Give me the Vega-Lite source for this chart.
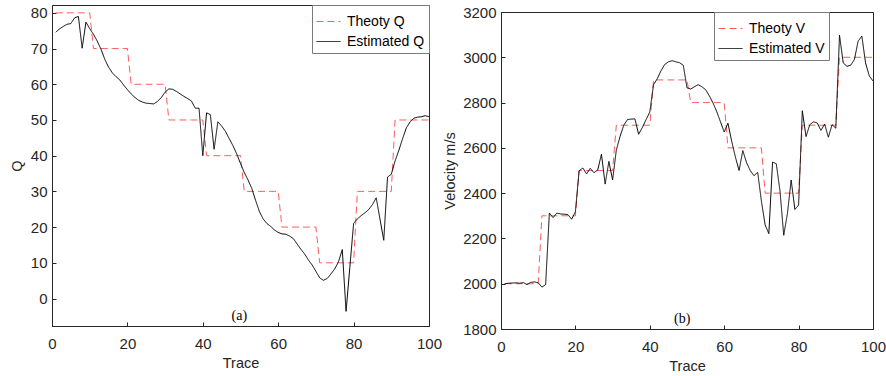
{
  "$schema": "https://vega.github.io/schema/vega-lite/v6.json",
  "padding": {"left": 8, "top": 4, "right": 5, "bottom": 5},
  "background": "white",
  "spacing": -2,
  "datasets": {
    "q": [
      {"t":1,"Theoty Q":80,"Estimated Q":74.6},{"t":2,"Theoty Q":80,"Estimated Q":75.5},{"t":3,"Theoty Q":80,"Estimated Q":76.2},{"t":4,"Theoty Q":80,"Estimated Q":76.8},{"t":5,"Theoty Q":80,"Estimated Q":77.0},
      {"t":6,"Theoty Q":80,"Estimated Q":78.6},{"t":7,"Theoty Q":80,"Estimated Q":79.0},{"t":8,"Theoty Q":80,"Estimated Q":70.1},{"t":9,"Theoty Q":80,"Estimated Q":77.4},{"t":10,"Theoty Q":80,"Estimated Q":75.6},
      {"t":11,"Theoty Q":70,"Estimated Q":74.0},{"t":12,"Theoty Q":70,"Estimated Q":72.1},{"t":13,"Theoty Q":70,"Estimated Q":69.8},{"t":14,"Theoty Q":70,"Estimated Q":67.0},{"t":15,"Theoty Q":70,"Estimated Q":64.8},
      {"t":16,"Theoty Q":70,"Estimated Q":63.2},{"t":17,"Theoty Q":70,"Estimated Q":62.1},{"t":18,"Theoty Q":70,"Estimated Q":61.2},{"t":19,"Theoty Q":70,"Estimated Q":59.8},{"t":20,"Theoty Q":70,"Estimated Q":58.5},
      {"t":21,"Theoty Q":60,"Estimated Q":57.3},{"t":22,"Theoty Q":60,"Estimated Q":56.3},{"t":23,"Theoty Q":60,"Estimated Q":55.5},{"t":24,"Theoty Q":60,"Estimated Q":55.0},{"t":25,"Theoty Q":60,"Estimated Q":54.7},
      {"t":26,"Theoty Q":60,"Estimated Q":54.6},{"t":27,"Theoty Q":60,"Estimated Q":54.5},{"t":28,"Theoty Q":60,"Estimated Q":55.2},{"t":29,"Theoty Q":60,"Estimated Q":56.3},{"t":30,"Theoty Q":60,"Estimated Q":57.8},
      {"t":31,"Theoty Q":50,"Estimated Q":58.7},{"t":32,"Theoty Q":50,"Estimated Q":58.6},{"t":33,"Theoty Q":50,"Estimated Q":58.0},{"t":34,"Theoty Q":50,"Estimated Q":57.3},{"t":35,"Theoty Q":50,"Estimated Q":56.6},
      {"t":36,"Theoty Q":50,"Estimated Q":56.0},{"t":37,"Theoty Q":50,"Estimated Q":55.3},{"t":38,"Theoty Q":50,"Estimated Q":53.3},{"t":39,"Theoty Q":50,"Estimated Q":53.3},{"t":40,"Theoty Q":50,"Estimated Q":40.0},
      {"t":41,"Theoty Q":40,"Estimated Q":52.0},{"t":42,"Theoty Q":40,"Estimated Q":51.5},{"t":43,"Theoty Q":40,"Estimated Q":41.8},{"t":44,"Theoty Q":40,"Estimated Q":49.5},{"t":45,"Theoty Q":40,"Estimated Q":48.3},
      {"t":46,"Theoty Q":40,"Estimated Q":46.8},{"t":47,"Theoty Q":40,"Estimated Q":44.8},{"t":48,"Theoty Q":40,"Estimated Q":42.8},{"t":49,"Theoty Q":40,"Estimated Q":40.5},{"t":50,"Theoty Q":40,"Estimated Q":37.8},
      {"t":51,"Theoty Q":30,"Estimated Q":35.3},{"t":52,"Theoty Q":30,"Estimated Q":33.2},{"t":53,"Theoty Q":30,"Estimated Q":30.8},{"t":54,"Theoty Q":30,"Estimated Q":27.5},{"t":55,"Theoty Q":30,"Estimated Q":24.4},
      {"t":56,"Theoty Q":30,"Estimated Q":22.3},{"t":57,"Theoty Q":30,"Estimated Q":21.0},{"t":58,"Theoty Q":30,"Estimated Q":20.2},{"t":59,"Theoty Q":30,"Estimated Q":19.2},{"t":60,"Theoty Q":30,"Estimated Q":18.5},
      {"t":61,"Theoty Q":20,"Estimated Q":18.1},{"t":62,"Theoty Q":20,"Estimated Q":18.0},{"t":63,"Theoty Q":20,"Estimated Q":17.5},{"t":64,"Theoty Q":20,"Estimated Q":16.8},{"t":65,"Theoty Q":20,"Estimated Q":15.3},
      {"t":66,"Theoty Q":20,"Estimated Q":13.8},{"t":67,"Theoty Q":20,"Estimated Q":12.5},{"t":68,"Theoty Q":20,"Estimated Q":10.8},{"t":69,"Theoty Q":20,"Estimated Q":9.4},{"t":70,"Theoty Q":20,"Estimated Q":7.6},
      {"t":71,"Theoty Q":10,"Estimated Q":5.8},{"t":72,"Theoty Q":10,"Estimated Q":5.1},{"t":73,"Theoty Q":10,"Estimated Q":5.6},{"t":74,"Theoty Q":10,"Estimated Q":6.9},{"t":75,"Theoty Q":10,"Estimated Q":8.3},
      {"t":76,"Theoty Q":10,"Estimated Q":10.3},{"t":77,"Theoty Q":10,"Estimated Q":13.7},{"t":78,"Theoty Q":10,"Estimated Q":-3.6},{"t":79,"Theoty Q":10,"Estimated Q":8.7},{"t":80,"Theoty Q":10,"Estimated Q":21.0},
      {"t":81,"Theoty Q":30,"Estimated Q":22.3},{"t":82,"Theoty Q":30,"Estimated Q":23.2},{"t":83,"Theoty Q":30,"Estimated Q":24.0},{"t":84,"Theoty Q":30,"Estimated Q":24.9},{"t":85,"Theoty Q":30,"Estimated Q":26.3},
      {"t":86,"Theoty Q":30,"Estimated Q":28.2},{"t":87,"Theoty Q":30,"Estimated Q":22.2},{"t":88,"Theoty Q":30,"Estimated Q":16.3},{"t":89,"Theoty Q":30,"Estimated Q":34.0},{"t":90,"Theoty Q":30,"Estimated Q":34.8},
      {"t":91,"Theoty Q":50,"Estimated Q":38.5},{"t":92,"Theoty Q":50,"Estimated Q":41.5},{"t":93,"Theoty Q":50,"Estimated Q":44.8},{"t":94,"Theoty Q":50,"Estimated Q":47.8},{"t":95,"Theoty Q":50,"Estimated Q":49.5},
      {"t":96,"Theoty Q":50,"Estimated Q":50.5},{"t":97,"Theoty Q":50,"Estimated Q":50.8},{"t":98,"Theoty Q":50,"Estimated Q":50.9},{"t":99,"Theoty Q":50,"Estimated Q":51.2},{"t":100,"Theoty Q":50,"Estimated Q":50.9}
    ],
    "v": [
      {"t":1,"Theoty V":2000,"Estimated V":2000},{"t":2,"Theoty V":2000,"Estimated V":2002},{"t":3,"Theoty V":2000,"Estimated V":2003},{"t":4,"Theoty V":2000,"Estimated V":2004},{"t":5,"Theoty V":2000,"Estimated V":2002},
      {"t":6,"Theoty V":2000,"Estimated V":2005},{"t":7,"Theoty V":2000,"Estimated V":1996},{"t":8,"Theoty V":2000,"Estimated V":2006},{"t":9,"Theoty V":2000,"Estimated V":2008},{"t":10,"Theoty V":2000,"Estimated V":2004},
      {"t":11,"Theoty V":2300,"Estimated V":1985},{"t":12,"Theoty V":2300,"Estimated V":1996},{"t":13,"Theoty V":2300,"Estimated V":2312},{"t":14,"Theoty V":2300,"Estimated V":2292},{"t":15,"Theoty V":2300,"Estimated V":2312},
      {"t":16,"Theoty V":2300,"Estimated V":2308},{"t":17,"Theoty V":2300,"Estimated V":2307},{"t":18,"Theoty V":2300,"Estimated V":2305},{"t":19,"Theoty V":2300,"Estimated V":2285},{"t":20,"Theoty V":2300,"Estimated V":2318},
      {"t":21,"Theoty V":2500,"Estimated V":2499},{"t":22,"Theoty V":2500,"Estimated V":2511},{"t":23,"Theoty V":2500,"Estimated V":2485},{"t":24,"Theoty V":2500,"Estimated V":2510},{"t":25,"Theoty V":2500,"Estimated V":2490},
      {"t":26,"Theoty V":2500,"Estimated V":2502},{"t":27,"Theoty V":2500,"Estimated V":2572},{"t":28,"Theoty V":2500,"Estimated V":2440},{"t":29,"Theoty V":2500,"Estimated V":2540},{"t":30,"Theoty V":2500,"Estimated V":2458},
      {"t":31,"Theoty V":2700,"Estimated V":2590},{"t":32,"Theoty V":2700,"Estimated V":2650},{"t":33,"Theoty V":2700,"Estimated V":2700},{"t":34,"Theoty V":2700,"Estimated V":2725},{"t":35,"Theoty V":2700,"Estimated V":2727},
      {"t":36,"Theoty V":2700,"Estimated V":2728},{"t":37,"Theoty V":2700,"Estimated V":2660},{"t":38,"Theoty V":2700,"Estimated V":2690},{"t":39,"Theoty V":2700,"Estimated V":2725},{"t":40,"Theoty V":2700,"Estimated V":2758},
      {"t":41,"Theoty V":2900,"Estimated V":2879},{"t":42,"Theoty V":2900,"Estimated V":2905},{"t":43,"Theoty V":2900,"Estimated V":2940},{"t":44,"Theoty V":2900,"Estimated V":2968},{"t":45,"Theoty V":2900,"Estimated V":2980},
      {"t":46,"Theoty V":2900,"Estimated V":2985},{"t":47,"Theoty V":2900,"Estimated V":2980},{"t":48,"Theoty V":2900,"Estimated V":2976},{"t":49,"Theoty V":2900,"Estimated V":2965},{"t":50,"Theoty V":2900,"Estimated V":2865},
      {"t":51,"Theoty V":2800,"Estimated V":2860},{"t":52,"Theoty V":2800,"Estimated V":2870},{"t":53,"Theoty V":2800,"Estimated V":2879},{"t":54,"Theoty V":2800,"Estimated V":2870},{"t":55,"Theoty V":2800,"Estimated V":2857},
      {"t":56,"Theoty V":2800,"Estimated V":2830},{"t":57,"Theoty V":2800,"Estimated V":2798},{"t":58,"Theoty V":2800,"Estimated V":2760},{"t":59,"Theoty V":2800,"Estimated V":2715},{"t":60,"Theoty V":2800,"Estimated V":2670},
      {"t":61,"Theoty V":2600,"Estimated V":2709},{"t":62,"Theoty V":2600,"Estimated V":2630},{"t":63,"Theoty V":2600,"Estimated V":2560},{"t":64,"Theoty V":2600,"Estimated V":2500},{"t":65,"Theoty V":2600,"Estimated V":2588},
      {"t":66,"Theoty V":2600,"Estimated V":2535},{"t":67,"Theoty V":2600,"Estimated V":2500},{"t":68,"Theoty V":2600,"Estimated V":2477},{"t":69,"Theoty V":2600,"Estimated V":2492},{"t":70,"Theoty V":2600,"Estimated V":2365},
      {"t":71,"Theoty V":2400,"Estimated V":2260},{"t":72,"Theoty V":2400,"Estimated V":2221},{"t":73,"Theoty V":2400,"Estimated V":2537},{"t":74,"Theoty V":2400,"Estimated V":2530},{"t":75,"Theoty V":2400,"Estimated V":2410},
      {"t":76,"Theoty V":2400,"Estimated V":2214},{"t":77,"Theoty V":2400,"Estimated V":2310},{"t":78,"Theoty V":2400,"Estimated V":2458},{"t":79,"Theoty V":2400,"Estimated V":2328},{"t":80,"Theoty V":2400,"Estimated V":2347},
      {"t":81,"Theoty V":2700,"Estimated V":2764},{"t":82,"Theoty V":2700,"Estimated V":2650},{"t":83,"Theoty V":2700,"Estimated V":2702},{"t":84,"Theoty V":2700,"Estimated V":2715},{"t":85,"Theoty V":2700,"Estimated V":2710},
      {"t":86,"Theoty V":2700,"Estimated V":2677},{"t":87,"Theoty V":2700,"Estimated V":2705},{"t":88,"Theoty V":2700,"Estimated V":2647},{"t":89,"Theoty V":2700,"Estimated V":2702},{"t":90,"Theoty V":2700,"Estimated V":2687},
      {"t":91,"Theoty V":3000,"Estimated V":3097},{"t":92,"Theoty V":3000,"Estimated V":2975},{"t":93,"Theoty V":3000,"Estimated V":2960},{"t":94,"Theoty V":3000,"Estimated V":2965},{"t":95,"Theoty V":3000,"Estimated V":2990},
      {"t":96,"Theoty V":3000,"Estimated V":3071},{"t":97,"Theoty V":3000,"Estimated V":3094},{"t":98,"Theoty V":3000,"Estimated V":2975},{"t":99,"Theoty V":3000,"Estimated V":2918},{"t":100,"Theoty V":3000,"Estimated V":2895}
    ]
  },
  "config": {
    "view": {"stroke": "#262626", "strokeWidth": 1},
    "axis": {
      "grid": false, "domainColor": "#262626", "tickColor": "#262626",
      "labelColor": "#262626", "titleColor": "#262626",
      "labelFont": "Liberation Sans", "titleFont": "Liberation Sans",
      "labelFontSize": 15, "titleFontSize": 14.5, "titleFontWeight": "normal",
      "tickSize": -4, "domainWidth": 1, "tickWidth": 1, "labelFlush": false
    },
    "legend": {
      "labelFont": "Liberation Sans", "labelFontSize": 14, "labelColor": "#000000",
      "fillColor": "white", "strokeColor": "#7a7a7a", "padding": 4,
      "symbolType": "stroke", "symbolSize": 576, "symbolStrokeWidth": 1,
      "labelOffset": 6, "rowPadding": 0
    }
  },
  "resolve": {"scale": {"color": "independent", "strokeDash": "independent"}, "legend": {"color": "independent", "strokeDash": "independent"}},
  "hconcat": [
    {
      "width": 377, "height": 321,
      "layer": [
        {
          "data": {"name": "q"},
          "transform": [{"fold": ["Theoty Q"], "as": ["s", "val"]}],
          "mark": {"type": "line", "strokeWidth": 1},
          "encoding": {
            "x": {"field": "t", "type": "quantitative", "scale": {"domain": [0, 100], "nice": false, "zero": false},
                  "axis": {"values": [0, 20, 40, 60, 80, 100], "title": "Trace", "labelPadding": 14, "titlePadding": 5}},
            "y": {"field": "val", "type": "quantitative", "scale": {"domain": [-7.7, 82.2], "nice": false, "zero": false},
                  "axis": {"values": [0, 10, 20, 30, 40, 50, 60, 70, 80], "title": "Q", "labelPadding": 9, "minExtent": 22, "maxExtent": 22, "titlePadding": 6}},
            "color": {"field": "s", "type": "nominal", "scale": {"domain": ["Theoty Q", "Estimated Q"], "range": ["#ff5a5a", "#000000"]},
                      "legend": {"title": null, "orient": "top-right", "offset": 0}},
            "strokeDash": {"field": "s", "type": "nominal", "scale": {"domain": ["Theoty Q", "Estimated Q"], "range": [[7, 4], [1, 0]]},
                      "legend": {"title": null, "orient": "top-right", "offset": 0}}
          }
        },
        {
          "data": {"name": "q"},
          "transform": [{"fold": ["Estimated Q"], "as": ["s", "val"]}],
          "mark": {"type": "line", "strokeWidth": 1},
          "encoding": {
            "x": {"field": "t", "type": "quantitative"},
            "y": {"field": "val", "type": "quantitative"},
            "color": {"field": "s", "type": "nominal"},
            "strokeDash": {"field": "s", "type": "nominal"}
          }
        },
        {
          "data": {"values": [{"t": 49.7, "val": -5, "label": "(a)"}]},
          "mark": {"type": "text", "font": "Liberation Serif", "fontSize": 14, "color": "#000000"},
          "encoding": {
            "x": {"field": "t", "type": "quantitative"},
            "y": {"field": "val", "type": "quantitative"},
            "text": {"field": "label"}
          }
        }
      ]
    },
    {
      "spacing": -2,
      "resolve": {"scale": {"color": "independent", "strokeDash": "independent"}},
      "vconcat": [
        {
          "width": 1, "height": 1,
          "view": {"stroke": null},
          "data": {"values": [{"k": 1}]},
          "mark": {"type": "point", "size": 0, "opacity": 0},
          "encoding": {}
        },
        {
          "width": 372, "height": 317,
          "layer": [
            {
              "data": {"name": "v"},
              "transform": [{"fold": ["Theoty V"], "as": ["s", "val"]}],
              "mark": {"type": "line", "strokeWidth": 1},
              "encoding": {
                "x": {"field": "t", "type": "quantitative", "scale": {"domain": [0, 100], "nice": false, "zero": false},
                      "axis": {"values": [0, 20, 40, 60, 80, 100], "title": "Trace", "labelPadding": 14, "titlePadding": 5}},
                "y": {"field": "val", "type": "quantitative", "scale": {"domain": [1800, 3200], "nice": false, "zero": false},
                      "axis": {"values": [1800, 2000, 2200, 2400, 2600, 2800, 3000, 3200], "format": "d", "title": "Velocity m/s", "labelPadding": 9, "minExtent": 38, "maxExtent": 38, "titlePadding": 6}},
                "color": {"field": "s", "type": "nominal", "scale": {"domain": ["Theoty V", "Estimated V"], "range": ["#ff5a5a", "#000000"]},
                          "legend": {"title": null, "orient": "none", "legendX": 213, "legendY": 0}},
                "strokeDash": {"field": "s", "type": "nominal", "scale": {"domain": ["Theoty V", "Estimated V"], "range": [[7, 4], [1, 0]]},
                          "legend": {"title": null, "orient": "none", "legendX": 213, "legendY": 0}}
              }
            },
            {
              "data": {"name": "v"},
              "transform": [{"fold": ["Estimated V"], "as": ["s", "val"]}],
              "mark": {"type": "line", "strokeWidth": 1},
              "encoding": {
                "x": {"field": "t", "type": "quantitative"},
                "y": {"field": "val", "type": "quantitative"},
                "color": {"field": "s", "type": "nominal"},
                "strokeDash": {"field": "s", "type": "nominal"}
              }
            },
            {
              "data": {"values": [{"t": 48.7, "val": 1846, "label": "(b)"}]},
              "mark": {"type": "text", "font": "Liberation Serif", "fontSize": 14, "color": "#000000"},
              "encoding": {
                "x": {"field": "t", "type": "quantitative"},
                "y": {"field": "val", "type": "quantitative"},
                "text": {"field": "label"}
              }
            }
          ]
        }
      ]
    }
  ]
}
